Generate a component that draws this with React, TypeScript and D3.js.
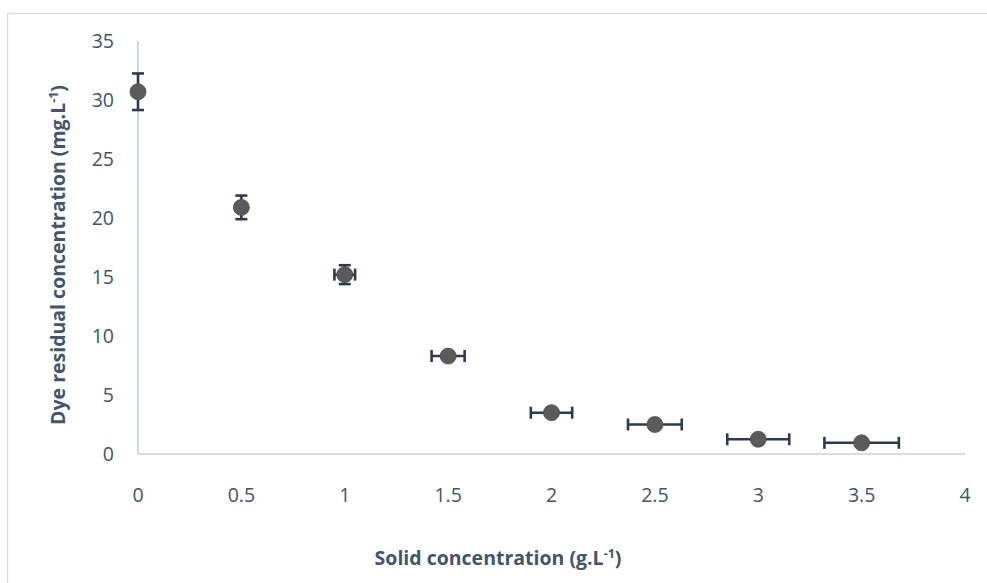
import React, { useEffect, useRef } from 'react';
import * as d3 from 'd3';

// solid concentration (g/L)
const solidConc = [0, 0.5, 1, 1.5, 2, 2.5, 3, 3.5];
// dye residual concentration (mg/L)
const dyeResidual = [30.7, 20.9, 15.2, 8.3, 3.5, 2.5, 1.25, 0.95];
const yError = [1.55, 1.0, 0.8, 0, 0, 0, 0, 0];
const xError = [0, 0, 0.05, 0.08, 0.1, 0.13, 0.15, 0.18];

const xTicks = [0, 0.5, 1, 1.5, 2, 2.5, 3, 3.5, 4];
const yTicks = [0, 5, 10, 15, 20, 25, 30, 35];

const width = 987;
const height = 583;

function App() {
  const ref = useRef<SVGSVGElement>(null);

  useEffect(() => {
    drawChart();
  }, []);

  function drawChart() {
    const svg = d3.select(ref.current);
    svg.selectAll('*').remove();

    const x = d3.scaleLinear().domain([0, 4]).range([138, 965]);
    const y = d3.scaleLinear().domain([0, 35]).range([454, 41]);

    const font = '"Open Sans", sans-serif';
    const labelColor = '#44546a';
    const barColor = '#2e3a4e';

    // outer frame
    svg
      .append('rect')
      .attr('x', 7.5)
      .attr('y', 13.5)
      .attr('width', 1000)
      .attr('height', 600)
      .attr('fill', 'white')
      .attr('stroke', '#d9dde5')
      .attr('stroke-width', 1.5);

    // axes lines
    svg
      .append('line')
      .attr('x1', x(0))
      .attr('x2', x(0))
      .attr('y1', y(35))
      .attr('y2', y(0))
      .attr('stroke', '#b4c1d6')
      .attr('stroke-width', 1.3);

    svg
      .append('line')
      .attr('x1', x(0))
      .attr('x2', x(4))
      .attr('y1', y(0))
      .attr('y2', y(0))
      .attr('stroke', '#c8cfdb')
      .attr('stroke-width', 1.6);

    // tick labels
    svg
      .selectAll('.ytick')
      .data(yTicks)
      .enter()
      .append('text')
      .attr('x', 114)
      .attr('y', (d) => y(d))
      .attr('dy', '0.36em')
      .attr('text-anchor', 'end')
      .style('font-family', font)
      .style('font-size', '19.5px')
      .style('fill', labelColor)
      .text((d) => d);

    svg
      .selectAll('.xtick')
      .data(xTicks)
      .enter()
      .append('text')
      .attr('x', (d) => x(d))
      .attr('y', 495)
      .attr('dy', '0.36em')
      .attr('text-anchor', 'middle')
      .style('font-family', font)
      .style('font-size', '19.5px')
      .style('fill', labelColor)
      .text((d) => d);

    // axis titles
    const xt = svg
      .append('text')
      .attr('x', 498)
      .attr('y', 565)
      .attr('text-anchor', 'middle')
      .style('font-family', font)
      .style('font-size', '19.5px')
      .style('font-weight', 'bold')
      .style('fill', labelColor);
    xt.append('tspan').text('Solid concentration (g.L');
    xt.append('tspan').attr('dy', -7).style('font-size', '12.5px').text('-1');
    xt.append('tspan').attr('dy', 7).text(')');

    const yt = svg
      .append('text')
      .attr('transform', 'translate(65, 255) rotate(-90)')
      .attr('text-anchor', 'middle')
      .style('font-family', font)
      .style('font-size', '19.5px')
      .style('font-weight', 'bold')
      .style('fill', labelColor);
    yt.append('tspan').text('Dye residual concentration (mg.L');
    yt.append('tspan').attr('dy', -7).style('font-size', '12.5px').text('-1');
    yt.append('tspan').attr('dy', 7).text(')');

    const pts = solidConc.map((s, i) => ({
      x: s,
      y: dyeResidual[i],
      ex: xError[i],
      ey: yError[i],
    }));

    const cap = 6;
    const g = svg.append('g').attr('stroke', barColor).attr('stroke-width', 2.6);

    pts.forEach((p) => {
      if (p.ey > 0) {
        g.append('line')
          .attr('x1', x(p.x)).attr('x2', x(p.x))
          .attr('y1', y(p.y - p.ey)).attr('y2', y(p.y + p.ey));
        [p.y - p.ey, p.y + p.ey].forEach((v) => {
          g.append('line')
            .attr('x1', x(p.x) - cap).attr('x2', x(p.x) + cap)
            .attr('y1', y(v)).attr('y2', y(v));
        });
      }
      if (p.ex > 0) {
        g.append('line')
          .attr('x1', x(p.x - p.ex)).attr('x2', x(p.x + p.ex))
          .attr('y1', y(p.y)).attr('y2', y(p.y));
        [p.x - p.ex, p.x + p.ex].forEach((v) => {
          g.append('line')
            .attr('x1', x(v)).attr('x2', x(v))
            .attr('y1', y(p.y) - cap).attr('y2', y(p.y) + cap);
        });
      }
    });

    svg
      .selectAll('.pt')
      .data(pts)
      .enter()
      .append('circle')
      .attr('cx', (d) => x(d.x))
      .attr('cy', (d) => y(d.y))
      .attr('r', 8)
      .attr('fill', '#5b5b5b')
      .attr('stroke', '#4d4d4d')
      .attr('stroke-width', 0.8);
  }

  return (
    <svg
      ref={ref}
      width={width}
      height={height}
      style={{ position: 'absolute', left: 0, top: 0, background: 'white' }}
    />
  );
}

export default App;
